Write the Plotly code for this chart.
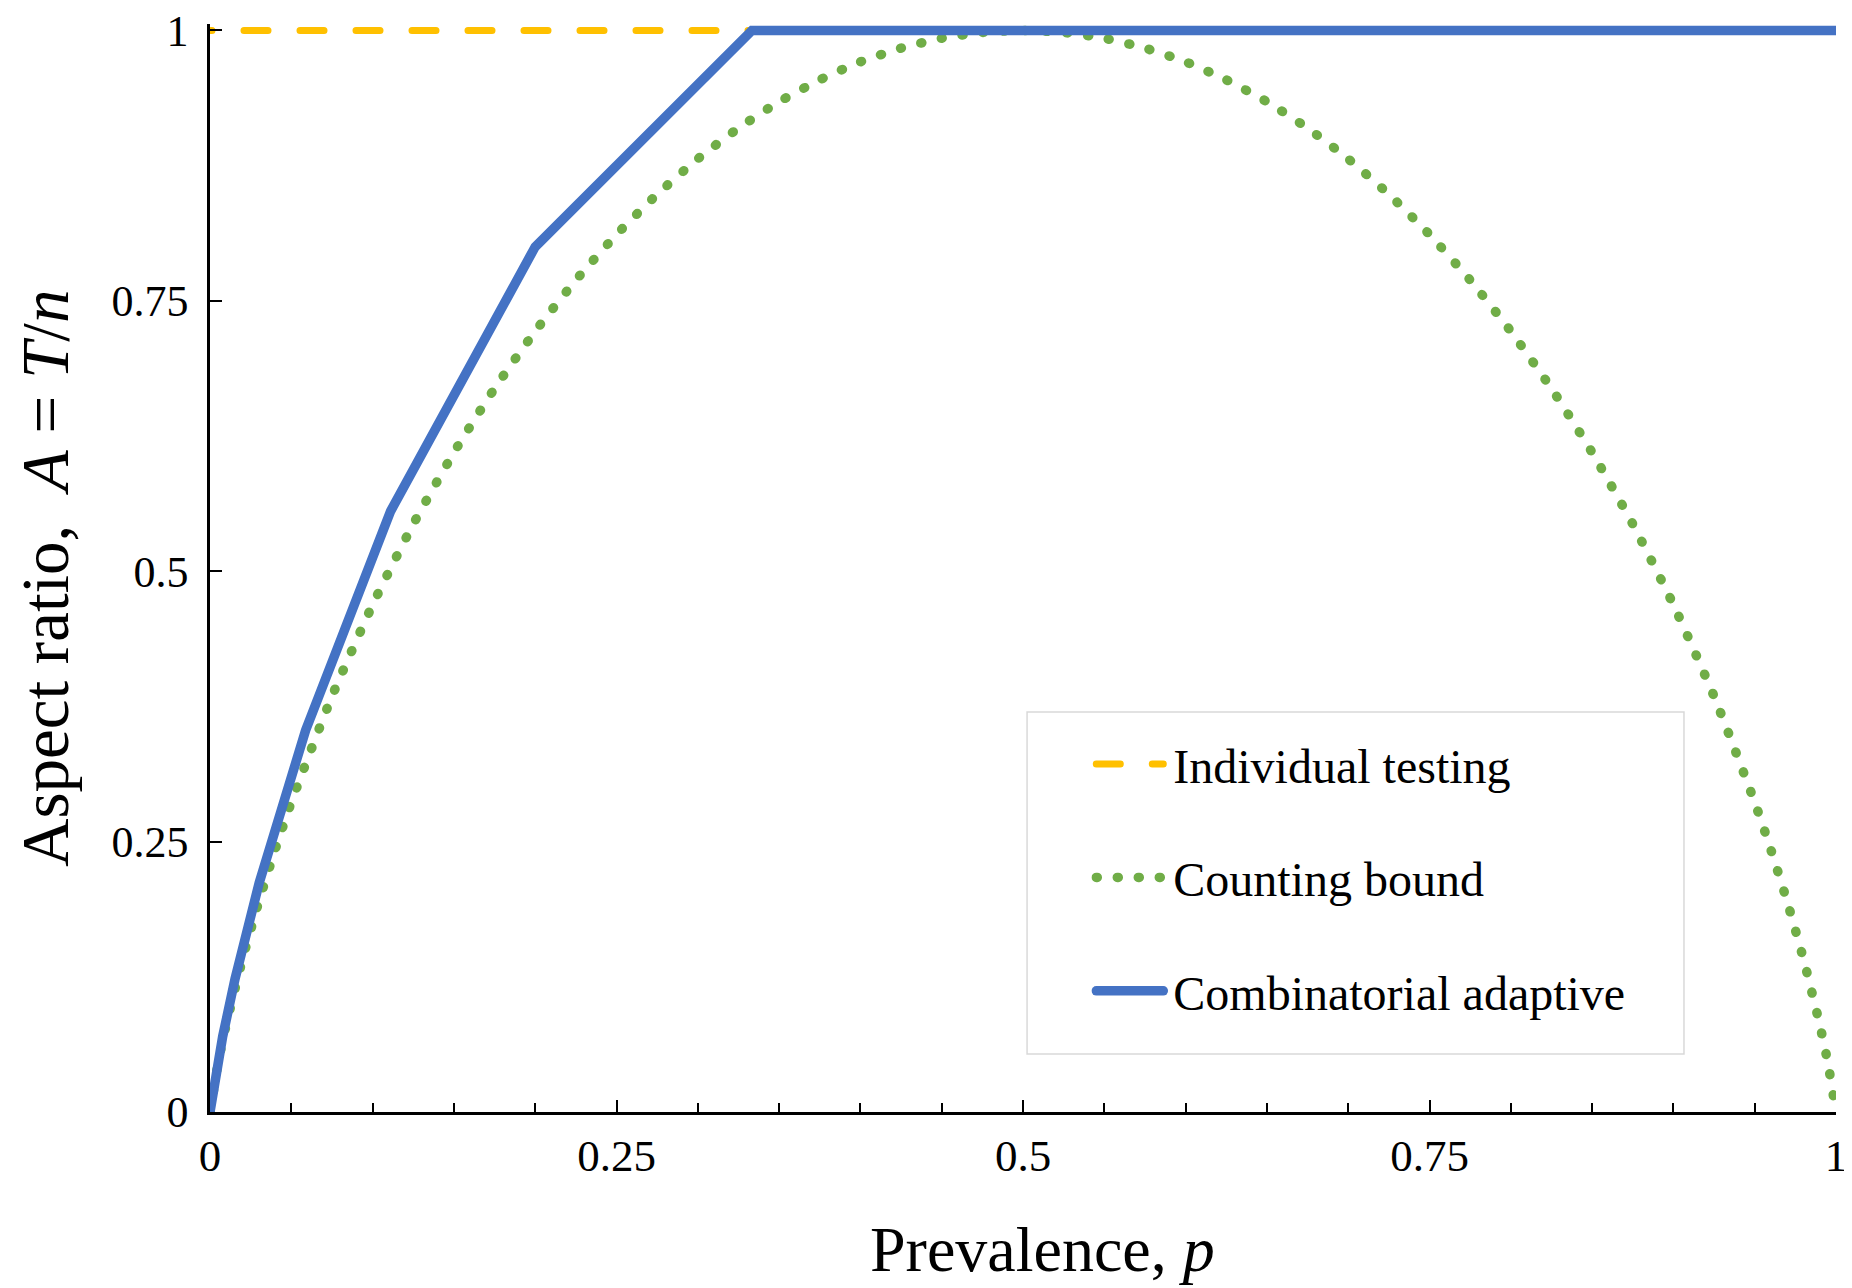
import plotly.graph_objects as go

# ---- data ----
# Individual testing: A = 1 at every prevalence (listed from p=1 down to p=0)
indiv_p = [1.0, 0.0]
indiv_A = [1.0, 1.0]

# Counting bound (dotted green curve)
count_p = [0.0, 0.005, 0.01, 0.02, 0.03, 0.04, 0.05, 0.075, 0.1, 0.125, 0.15, 0.175,
           0.2, 0.225, 0.25, 0.275, 0.3, 0.325, 0.35, 0.375, 0.4, 0.425, 0.45, 0.475,
           0.5, 0.525, 0.55, 0.575, 0.6, 0.625, 0.65, 0.675, 0.7, 0.725, 0.75, 0.775,
           0.8, 0.825, 0.85, 0.875, 0.9, 0.925, 0.95, 0.96, 0.97, 0.98, 0.99, 0.995, 1.0]
count_A = [0.0, 0.0454, 0.0808, 0.1414, 0.1944, 0.2423, 0.2864, 0.3843, 0.4690, 0.5436, 0.6098, 0.6690,
           0.7219, 0.7692, 0.8113, 0.8485, 0.8813, 0.9097, 0.9341, 0.9544, 0.9710, 0.9837, 0.9928, 0.9982,
           1.0, 0.9982, 0.9928, 0.9837, 0.9710, 0.9544, 0.9341, 0.9097, 0.8813, 0.8485, 0.8113, 0.7692,
           0.7219, 0.6690, 0.6098, 0.5436, 0.4690, 0.3843, 0.2864, 0.2423, 0.1944, 0.1414, 0.0808, 0.0454, 0.0]

# Combinatorial adaptive (solid blue piecewise line)
comb_p = [0.0, 0.0039, 0.0078, 0.0154, 0.0303, 0.0588, 0.1111, 0.2, 0.3333, 1.0]
comb_A = [0.0, 0.0389, 0.0698, 0.1231, 0.2121, 0.3529, 0.5556, 0.8, 1.0, 1.0]

series_names = ["Individual testing", "Counting bound", "Combinatorial adaptive"]

x_tickvals = [0, 0.25, 0.5, 0.75, 1]
x_ticktext = ["0", "0.25", "0.5", "0.75", "1"]
y_tickvals = [0, 0.25, 0.5, 0.75, 1]
y_ticktext = ["0", "0.25", "0.5", "0.75", "1"]

x_title = "Prevalence, <i>p</i>"
y_title = "Aspect ratio,\u00a0 <i>A</i> = <i>T</i>/<i>n</i>"

FONT = "Liberation Serif, Times New Roman, serif"

fig = go.Figure()
fig.add_trace(go.Scatter(
    x=indiv_p, y=indiv_A, mode="lines", name=series_names[0], legendgroup="g1",
    line=dict(color="#FFC000", width=7, dash="24px,32px"),
))
fig.add_trace(go.Scatter(
    x=count_p, y=count_A, mode="lines", name=series_names[1], legendgroup="g2",
    line=dict(color="#70AD47", width=9.5, dash="1px,20px", shape="spline", smoothing=0.6),
))
fig.add_trace(go.Scatter(
    x=comb_p, y=comb_A, mode="lines", name=series_names[2], legendgroup="g3",
    line=dict(color="#4472C4", width=9.5),
))

# page body has an 8px margin, so the figure is sized to fill the rest of the window
fig.update_layout(
    width=1844, height=1280,
    margin=dict(l=202, r=16, t=16, b=176, autoexpand=False),
    paper_bgcolor="white", plot_bgcolor="white",
    font=dict(family=FONT, color="black", size=44),
    showlegend=True,
    legend=dict(
        x=0.542, y=0.3545, xanchor="left", yanchor="top",
        font=dict(family=FONT, size=48, color="black"),
        bgcolor="rgba(0,0,0,0)", borderwidth=0,
        tracegroupgap=48, itemwidth=72,
    ),
    shapes=[dict(type="rect", xref="paper", yref="paper",
                 x0=0.5025, x1=0.9065, y0=0.0533, y1=0.3676,
                 line=dict(color="#d9d9d9", width=1.5), fillcolor="rgba(0,0,0,0)",
                 layer="below")],
    annotations=[
        dict(text=x_title, xref="paper", yref="paper", x=0.5117, y=-0.1262,
             xanchor="center", yanchor="middle", showarrow=False, borderpad=0,
             font=dict(family=FONT, size=64, color="black")),
        dict(text=y_title, xref="paper", yref="paper", x=-0.1015, y=0.4908,
             xanchor="center", yanchor="middle", showarrow=False, textangle=-90,
             font=dict(family=FONT, size=67, color="black")),
    ],
)

fig.update_xaxes(
    range=[0, 1], showgrid=False, zeroline=False, automargin=False,
    showline=True, linecolor="black", linewidth=2.5,
    ticks="inside", ticklen=12, tickwidth=2, tickcolor="black",
    tickvals=x_tickvals, ticktext=x_ticktext, ticklabeloverflow="allow",
    minor=dict(dtick=0.05, ticks="inside", ticklen=9, tickwidth=1.5, tickcolor="black", showgrid=False),
    tickfont=dict(family=FONT, size=45),
    ticklabelstandoff=2,
)
fig.update_yaxes(
    range=[0, 1.006], showgrid=False, zeroline=False, automargin=False,
    showline=True, linecolor="black", linewidth=2.5,
    ticks="inside", ticklen=12, tickwidth=2, tickcolor="black",
    tickvals=y_tickvals, ticktext=y_ticktext, ticklabeloverflow="allow",
    tickfont=dict(family=FONT, size=44),
    ticklabelstandoff=10,
)

post = """
var gd = document.getElementById('{plot_id}');
function styleLines() {
    gd.querySelectorAll('.scatterlayer path.js-line, .legend path.js-line').forEach(function(p){
        p.style.strokeLinecap = 'round';
    });
    gd.querySelectorAll('.legend .legendlines path').forEach(function(p){
        p.setAttribute('d', 'M5,0h67');
    });
}
styleLines();
gd.on('plotly_afterplot', styleLines);
"""

fig.write_html("out.html", post_script=post, config={"responsive": False})
